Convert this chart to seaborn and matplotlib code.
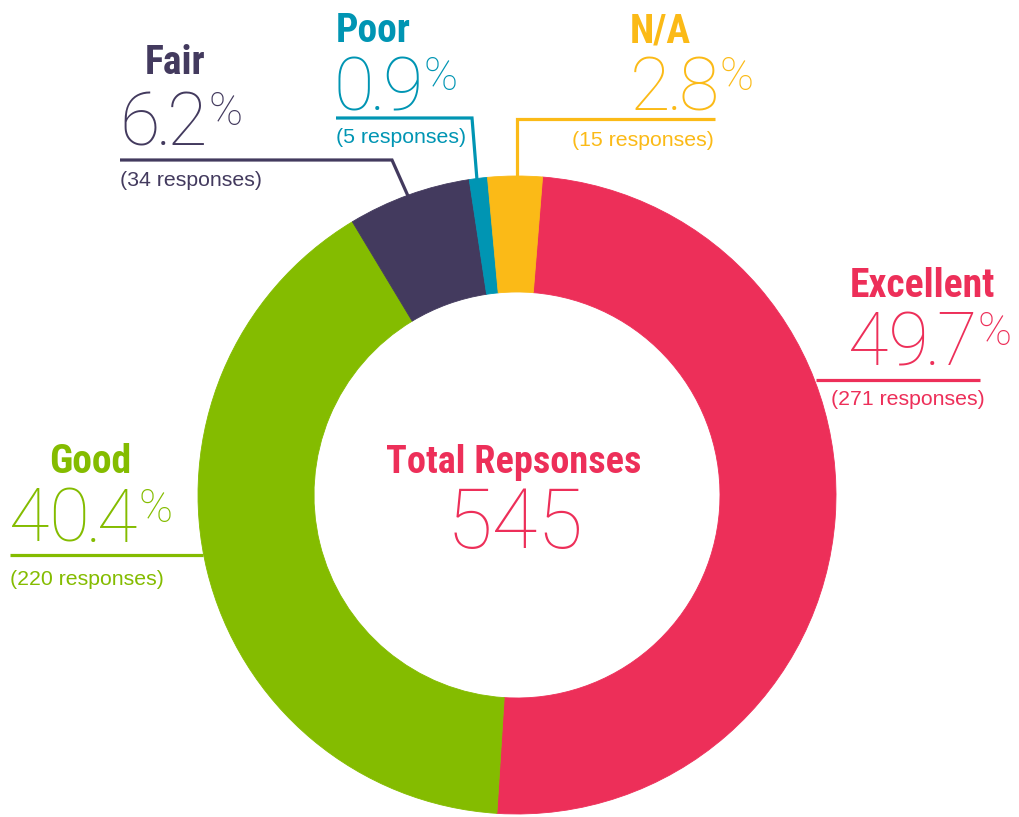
import matplotlib
matplotlib.use('Agg')
import matplotlib.pyplot as plt
import seaborn as sns

# data
categories = ['Excellent', 'Good', 'Fair', 'Poor', 'N/A']
responses = [271, 220, 34, 5, 15]
colors = ['#ED2F59', '#84BC00', '#433A5E', '#0095B3', '#FBBA17']
center_title = 'Total Repsonses'

sns.set_theme(style='white')
palette = sns.color_palette(colors)
plt.rcParams['font.family'] = ['Liberation Sans', 'DejaVu Sans']

W, H = 1020, 817
total = sum(responses)
pcts = [r / total * 100 for r in responses]


def Y(y):
    # pixel row (from top) -> data y
    return H - y


fig = plt.figure(figsize=(W / 100, H / 100), dpi=100)
ax = fig.add_axes([0, 0, 1, 1])

wedges, _ = ax.pie(responses, colors=palette, startangle=85.4, counterclock=False,
                   radius=319, center=(517, Y(495)),
                   wedgeprops=dict(width=116, linewidth=0.6))
for w in wedges:
    w.set_edgecolor(w.get_facecolor())

ax.set_xlim(0, W)
ax.set_ylim(0, H)
ax.set_aspect('equal')
ax.axis('off')

thin = dict(family='Roboto', weight=100)


def big_number(x, y, value, col):
    # thin percentage with a tight decimal point and a small raised % sign
    whole, dec = f'{value:.1f}'.split('.')
    t = ax.text(x, Y(y), whole, color=col, ha='left', va='baseline', fontsize=53, **thin)
    t = ax.annotate('.', xy=(1, Y(y)), xycoords=(t, 'data'), xytext=(-4, 0),
                    textcoords='offset pixels', color=col, ha='left', va='baseline',
                    fontsize=53, **thin)
    t = ax.annotate(dec, xy=(1, Y(y)), xycoords=(t, 'data'), xytext=(-4, 0),
                    textcoords='offset pixels', color=col, ha='left', va='baseline',
                    fontsize=53, **thin)
    ax.annotate('%', xy=(1, Y(y - 20)), xycoords=(t, 'data'), xytext=(1, 0),
                textcoords='offset pixels', color=col, ha='left', va='baseline',
                fontsize=33, **thin)


# label layout in pixels from top-left: name, number, responses, leader line
layout = {
    'Fair': dict(name=(145, 74, 'left'), num=(119, 145), resp=(120, 186, 'left'),
                 line=[(120, 160), (392, 160), (408, 196)]),
    'Poor': dict(name=(336, 42, 'left'), num=(334, 110), resp=(336, 143, 'left'),
                 line=[(336, 118), (472, 118), (477, 180)]),
    'N/A': dict(name=(630, 42, 'left'), num=(630, 110), resp=(714, 146, 'right'),
                line=[(715, 119), (517, 119), (517, 178)]),
    'Excellent': dict(name=(850, 297, 'left'), num=(848, 365), resp=(985, 405, 'right'),
                      line=[(980, 380), (816, 380)]),
    'Good': dict(name=(49, 473, 'left'), num=(9, 542), resp=(10, 585, 'left'),
                 line=[(10, 555), (203, 555)]),
}

for cat, n, p, col in zip(categories, responses, pcts, palette):
    lay = layout[cat]
    nx, ny, nha = lay['name']
    ax.text(nx, Y(ny), cat, color=col, ha=nha, va='baseline',
            family='Roboto Condensed', weight='bold', fontsize=28.5)
    big_number(*lay['num'], p, col)
    rx, ry, rha = lay['resp']
    ax.text(rx, Y(ry), f'({n} responses)', color=col, ha=rha, va='baseline',
            family='Liberation Sans', fontsize=15.3)
    xs = [pt[0] for pt in lay['line']]
    ys = [Y(pt[1]) for pt in lay['line']]
    ax.plot(xs, ys, color=col, lw=2.3, solid_joinstyle='miter', solid_capstyle='butt')

# center text
ax.text(514, Y(473), center_title, color=palette[0], ha='center', va='baseline',
        family='Roboto Condensed', weight='bold', fontsize=27.5)
ax.text(515, Y(548), f'{total}', color=palette[0], ha='center', va='baseline',
        fontsize=60, **thin)

fig.savefig('out.png', dpi=100)
